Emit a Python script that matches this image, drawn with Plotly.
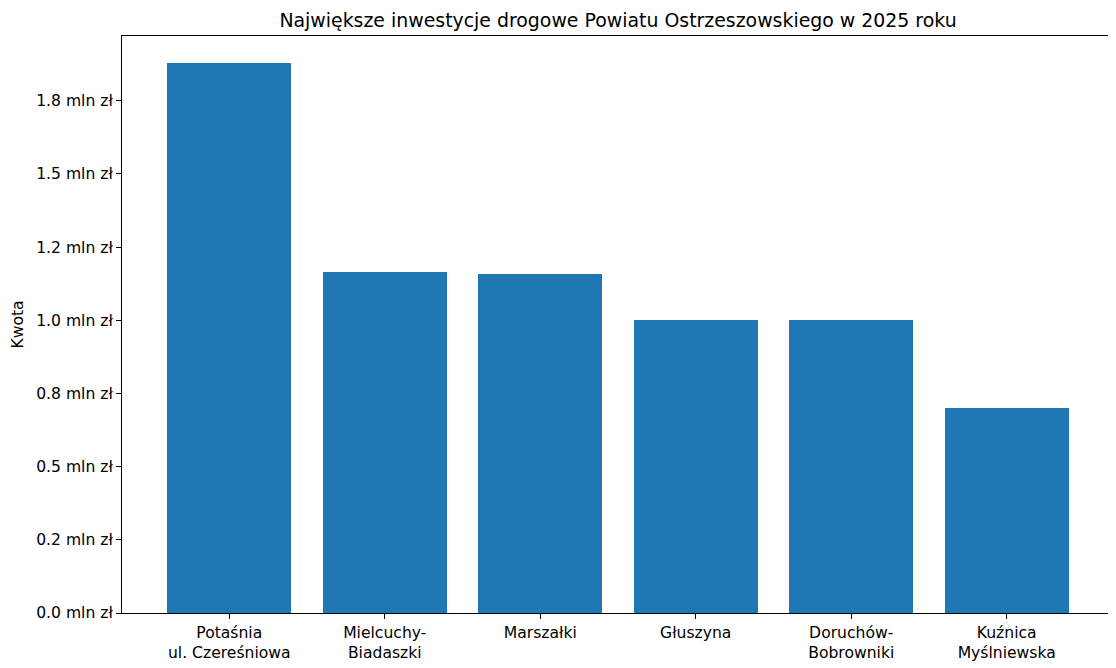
import plotly.graph_objects as go

categories = ["Potaśnia<br>ul. Czereśniowa", "Mielcuchy-<br>Biadaszki", "Marszałki",
              "Głuszyna", "Doruchów-<br>Bobrowniki", "Kuźnica<br>Myślniewska"]
values = [1877000, 1164000, 1157000, 1000000, 1000000, 700000]
tick_vals = [0, 250000, 500000, 750000, 1000000, 1250000, 1500000, 1750000]
tick_text = ["0.0 mln zł", "0.2 mln zł", "0.5 mln zł", "0.8 mln zł",
             "1.0 mln zł", "1.2 mln zł", "1.5 mln zł", "1.8 mln zł"]

font = "DejaVu Sans, Arial, sans-serif"
fig = go.Figure(go.Bar(x=list(range(len(categories))), y=values, width=0.8,
                       marker=dict(color="#1f77b4", line=dict(width=0))))

# page body has an 8px default margin; figure sized to fill the rest of the window
W, H = 1108, 660
ymax = max(values) * 1.05
fig.update_layout(
    width=W, height=H,
    margin=dict(l=114, r=2, t=28, b=55, autoexpand=False),
    paper_bgcolor="white", plot_bgcolor="white",
    font=dict(family=font, size=15.6, color="black"),
    title=dict(text="Największe inwestycje drogowe Powiatu Ostrzeszowskiego w 2025 roku",
               x=610 / W, xref="container", xanchor="center",
               y=1 - 12 / H, yref="container", yanchor="middle",
               font=dict(size=18.9, family=font)),
    showlegend=False,
    bargap=0,
)
fig.update_xaxes(range=[-0.69, 5.69], tickvals=list(range(len(categories))), ticktext=categories,
                 showline=True, linecolor="black", linewidth=1, mirror=True, automargin=False,
                 ticks="outside", ticklen=5, tickcolor="black", showgrid=False, zeroline=False,
                 tickfont=dict(size=15.6))
fig.update_yaxes(range=[0, ymax], tickvals=tick_vals, ticktext=tick_text,
                 showline=True, linecolor="black", linewidth=1, mirror=True, automargin=False,
                 ticks="outside", ticklen=5, tickcolor="black", showgrid=False, zeroline=False,
                 title=dict(text="Kwota", font=dict(size=15.6), standoff=8),
                 tickfont=dict(size=15.6))

fig.write_html("out.html")
